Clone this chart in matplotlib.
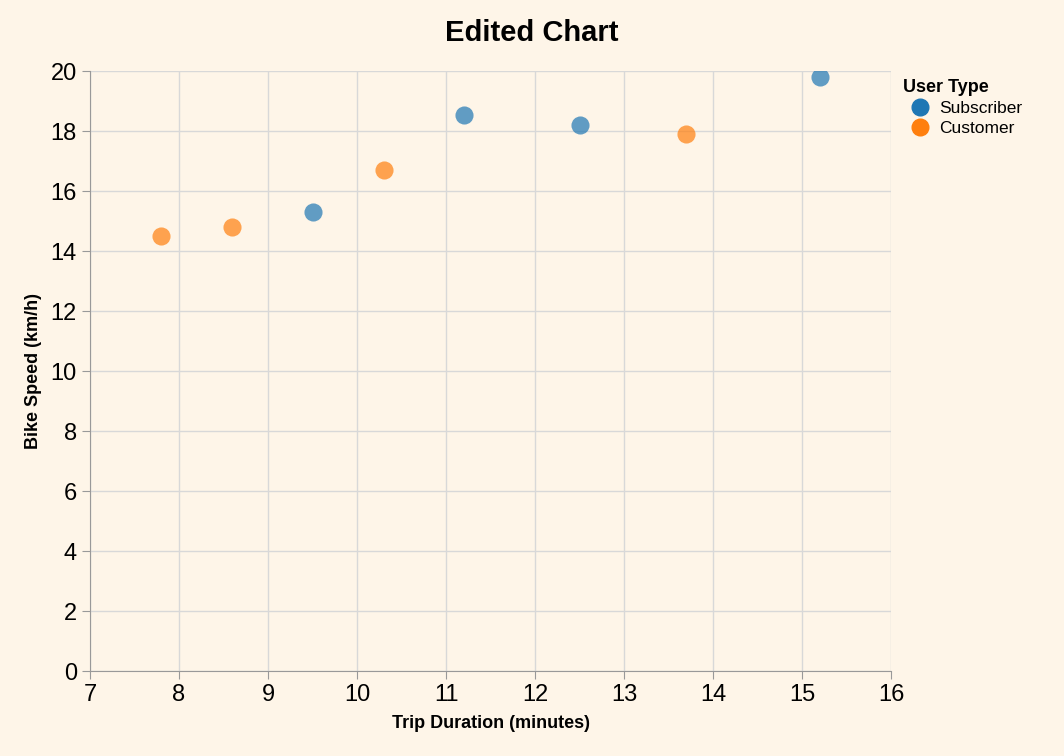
import matplotlib
matplotlib.use("Agg")
import matplotlib.pyplot as plt
from matplotlib.lines import Line2D

plt.rcParams["font.family"] = ["Liberation Sans", "DejaVu Sans"]

# data
sub_duration = [9.5, 11.2, 12.5, 15.2]
sub_speed = [15.3, 18.55, 18.2, 19.8]
cust_duration = [7.8, 8.6, 10.3, 13.7]
cust_speed = [14.5, 14.8, 16.7, 17.9]
x_ticks = list(range(7, 17))
y_ticks = list(range(0, 21, 2))

bg = "#fef5e8"
blue = "#1f77b4"
orange = "#ff7f0e"

fig = plt.figure(figsize=(10.64, 7.56), dpi=100, facecolor=bg)
ax = fig.add_axes([0.0846, 0.1124, 0.7528, 0.7936], facecolor=bg)

ax.scatter(sub_duration, sub_speed, s=170, color=blue, alpha=0.7, linewidths=0, zorder=3)
ax.scatter(cust_duration, cust_speed, s=170, color=orange, alpha=0.7, linewidths=0, zorder=3)

ax.set_xlim(7, 16)
ax.set_ylim(0, 20)
ax.set_xticks(x_ticks)
ax.set_yticks(y_ticks)
ax.grid(True, color="#d8d8d8", linewidth=1, zorder=0)
ax.set_axisbelow(True)
for side in ["top", "right"]:
    ax.spines[side].set_visible(False)
for side in ["left", "bottom"]:
    ax.spines[side].set_color("#999999")
ax.tick_params(labelsize=17, color="#999999", length=6)

ax.set_xlabel("Trip Duration (minutes)", fontsize=13, fontweight="bold", labelpad=6)
ax.set_ylabel("Bike Speed (km/h)", fontsize=13, fontweight="bold", labelpad=6)
fig.suptitle("Edited Chart", fontsize=21, fontweight="bold", y=0.975)

handles = [
    Line2D([], [], marker="o", linestyle="", color=blue, markersize=12, label="Subscriber"),
    Line2D([], [], marker="o", linestyle="", color=orange, markersize=12, label="Customer"),
]
leg = fig.legend(handles=handles, title="User Type", loc="upper left",
                 bbox_to_anchor=(0.842, 0.905), frameon=False, fontsize=12.5,
                 title_fontproperties={"weight": "bold", "size": 13},
                 handletextpad=0.1, labelspacing=0.3, borderaxespad=0)
leg._legend_box.align = "left"

fig.savefig("out.png", dpi=100, facecolor=bg)
